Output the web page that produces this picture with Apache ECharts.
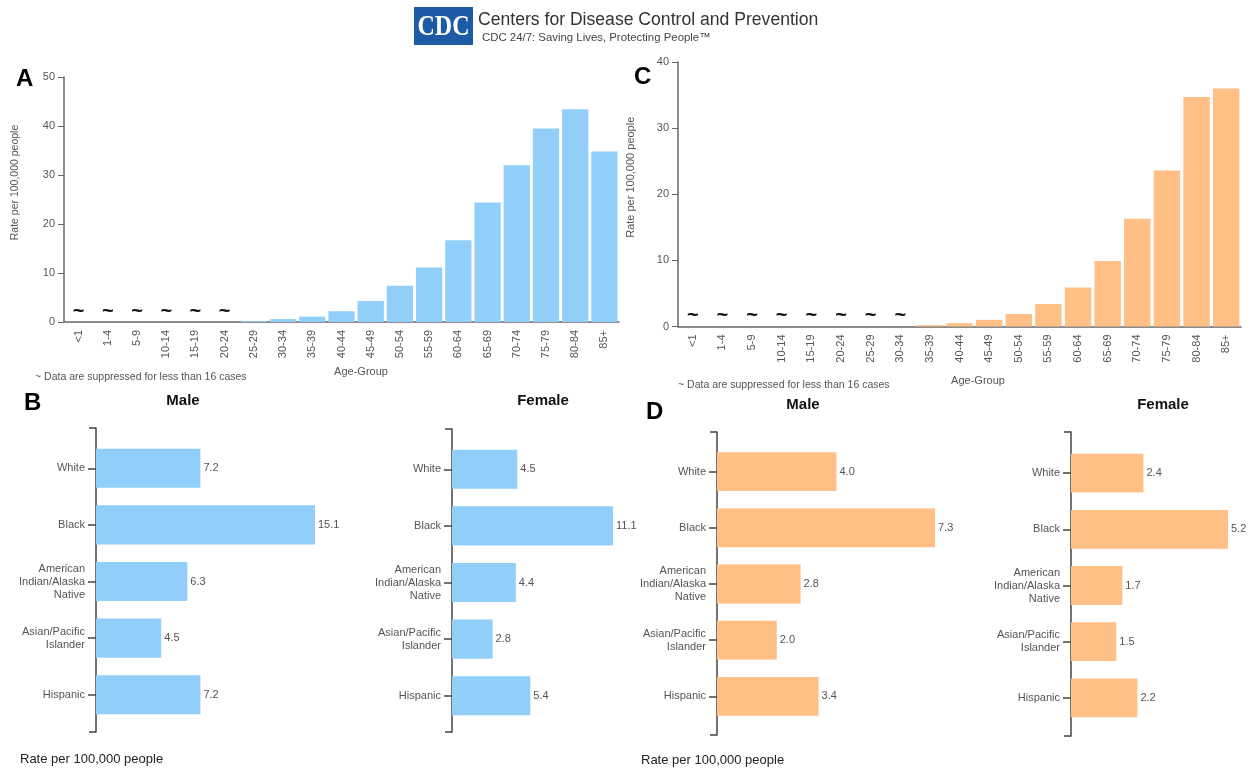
<!DOCTYPE html>
<html>
<head>
<meta charset="utf-8">
<title>Rates per 100,000 people</title>
<script src="https://cdn.jsdelivr.net/npm/echarts@6/dist/echarts.min.js"></script>
<style>
  html, body { margin: 0; padding: 0; background: #fff; }
  #chart { width: 1249px; height: 770px; }
</style>
</head>
<body>
<div id="chart"></div>
<script>
// age groups (panels A and C), null = suppressed (< 16 cases)
const ageGroups = ['<1', '1-4', '5-9', '10-14', '15-19', '20-24', '25-29', '30-34', '35-39', '40-44',
  '45-49', '50-54', '55-59', '60-64', '65-69', '70-74', '75-79', '80-84', '85+'];
const rateA = [null, null, null, null, null, null, 0.2, 0.6, 1.1, 2.2, 4.3, 7.4, 11.1, 16.7, 24.4, 32.0, 39.5, 43.4, 34.8];
const rateC = [null, null, null, null, null, null, null, null, 0.2, 0.5, 1.0, 1.9, 3.4, 5.9, 9.9, 16.3, 23.6, 34.7, 36.0];
const yTicksA = [0, 10, 20, 30, 40, 50];
const yTicksC = [0, 10, 20, 30, 40];

// race / ethnicity (panels B and D)
const raceGroups = ['White', 'Black', 'American\nIndian/Alaska\nNative', 'Asian/Pacific\nIslander', 'Hispanic'];
const maleB = [7.2, 15.1, 6.3, 4.5, 7.2];
const femaleB = [4.5, 11.1, 4.4, 2.8, 5.4];
const maleD = [4.0, 7.3, 2.8, 2.0, 3.4];
const femaleD = [2.4, 5.2, 1.7, 1.5, 2.2];

const BLUE = '#91cffa';
const ORANGE = '#ffbf85';
const AXIS = '#666';
const TXT = '#555';
const FONT = '"Liberation Sans", Arial, sans-serif';

var myChart = echarts.init(document.getElementById('chart'), null, { renderer: 'canvas' });

// suppressed groups: zero bar carrying a "~" label
function ageData(values) {
  return values.map(function (v) {
    if (v === null) {
      return {
        value: 0,
        label: { show: true, formatter: '~', position: 'top', distance: 1,
          fontSize: 20, fontWeight: 'bold', color: '#111', fontFamily: FONT }
      };
    }
    return v;
  });
}

function ageXAxis(gridIndex) {
  return {
    type: 'category', gridIndex: gridIndex, data: ageGroups,
    axisLine: { lineStyle: { color: AXIS, width: 1.5 } },
    axisTick: { alignWithLabel: true, length: 6, lineStyle: { color: AXIS } },
    axisLabel: { rotate: 90, fontSize: 11, color: TXT, fontFamily: FONT, margin: 8, interval: 0 }
  };
}

function ageYAxis(gridIndex, ticks, nameSize, gap) {
  return {
    type: 'value', gridIndex: gridIndex,
    min: ticks[0], max: ticks[ticks.length - 1], interval: ticks[1] - ticks[0],
    name: 'Rate per 100,000 people', nameLocation: 'middle', nameGap: gap,
    nameTextStyle: { fontSize: nameSize, color: TXT, fontFamily: FONT, padding: [0, 0, 0, 34] },
    axisLine: { show: true, lineStyle: { color: AXIS, width: 1.5 } },
    axisTick: { show: true, length: 6, lineStyle: { color: AXIS } },
    axisLabel: { fontSize: 11, color: TXT, fontFamily: FONT, margin: 9 },
    splitLine: { show: false }
  };
}

function raceYAxis(gridIndex) {
  return {
    type: 'category', gridIndex: gridIndex, data: raceGroups, inverse: true,
    axisLine: { show: false },
    axisTick: { show: true, alignWithLabel: true, length: 8, lineStyle: { color: '#444', width: 1.5 } },
    axisLabel: { fontSize: 11, color: TXT, fontFamily: FONT, margin: 11, lineHeight: 13, interval: 0 }
  };
}

// the bracket line: value axis with ticks only at both ends
function bracketYAxis(gridIndex) {
  return {
    type: 'value', gridIndex: gridIndex, min: 0, max: 1, interval: 1,
    axisLine: { show: true, lineStyle: { color: '#444', width: 1.5 } },
    axisTick: { show: true, length: 7, lineStyle: { color: '#444', width: 1.5 } },
    axisLabel: { show: false },
    splitLine: { show: false }
  };
}

function hiddenValueX(gridIndex) {
  return { type: 'value', gridIndex: gridIndex, show: false, min: 0, max: 'dataMax', splitLine: { show: false } };
}

function raceSeries(idx, values, color) {
  return {
    type: 'bar', xAxisIndex: idx, yAxisIndex: idx, data: values,
    barCategoryGap: '31%',
    itemStyle: { color: color },
    label: {
      show: true, position: 'right', distance: 3, fontSize: 11, color: TXT, fontFamily: FONT,
      formatter: function (p) { return p.value.toFixed(1); }
    },
    silent: true
  };
}

function txt(x, y, text, size, weight, color, align) {
  return {
    type: 'text', x: x, y: y, silent: true,
    style: { text: text, fontSize: size, fontWeight: weight || 'normal', fill: color || TXT,
      fontFamily: FONT, align: align || 'left', verticalAlign: 'middle' }
  };
}

var option = {
  animation: false,
  backgroundColor: '#fff',
  grid: [
    { left: 64, top: 77, width: 555, height: 245, outerBoundsMode: 'none' },       // A
    { left: 678, top: 62, width: 563, height: 264.5, outerBoundsMode: 'none' },    // C
    { left: 96, top: 440, width: 219, height: 283, outerBoundsMode: 'none' },      // B male
    { left: 452, top: 441, width: 161, height: 283, outerBoundsMode: 'none' },     // B female
    { left: 717, top: 443.5, width: 218, height: 281, outerBoundsMode: 'none' },   // D male
    { left: 1071, top: 445, width: 157, height: 281, outerBoundsMode: 'none' },    // D female
    { left: 96, top: 428, width: 10, height: 304, outerBoundsMode: 'none' },       // brackets
    { left: 452, top: 429, width: 10, height: 303, outerBoundsMode: 'none' },
    { left: 717, top: 432, width: 10, height: 303, outerBoundsMode: 'none' },
    { left: 1071, top: 432, width: 10, height: 304, outerBoundsMode: 'none' }
  ],
  xAxis: [
    ageXAxis(0), ageXAxis(1),
    hiddenValueX(2), hiddenValueX(3), hiddenValueX(4), hiddenValueX(5),
    { type: 'value', gridIndex: 6, show: false }, { type: 'value', gridIndex: 7, show: false },
    { type: 'value', gridIndex: 8, show: false }, { type: 'value', gridIndex: 9, show: false }
  ],
  yAxis: [
    ageYAxis(0, yTicksA, 10.5, 43), ageYAxis(1, yTicksC, 11, 42),
    raceYAxis(2), raceYAxis(3), raceYAxis(4), raceYAxis(5),
    bracketYAxis(6), bracketYAxis(7), bracketYAxis(8), bracketYAxis(9)
  ],
  series: [
    { type: 'bar', xAxisIndex: 0, yAxisIndex: 0, data: ageData(rateA), barCategoryGap: '10%',
      itemStyle: { color: BLUE }, silent: true },
    { type: 'bar', xAxisIndex: 1, yAxisIndex: 1, data: ageData(rateC), barCategoryGap: '11%',
      itemStyle: { color: ORANGE }, silent: true },
    raceSeries(2, maleB, BLUE),
    raceSeries(3, femaleB, BLUE),
    raceSeries(4, maleD, ORANGE),
    raceSeries(5, femaleD, ORANGE)
  ],
  graphic: [
    // header logo
    { type: 'rect', shape: { x: 414, y: 7, width: 59, height: 38 }, style: { fill: '#1d5ba6' }, silent: true },
    { type: 'text', x: 443.5, y: 27, scaleX: 0.8, silent: true,
      style: { text: 'CDC', fontSize: 30, fontWeight: 'bold', fill: '#fff', fontFamily: '"Liberation Serif", serif',
        align: 'center', verticalAlign: 'middle' } },
    txt(478, 20, 'Centers for Disease Control and Prevention', 17.6, 'normal', '#333'),
    txt(482, 38, 'CDC 24/7: Saving Lives, Protecting People\u2122', 11.4, 'normal', '#444'),
    // panel letters
    txt(16, 79, 'A', 24, 'bold', '#000'),
    txt(634, 77, 'C', 24, 'bold', '#000'),
    txt(24, 403, 'B', 24, 'bold', '#000'),
    txt(646, 412, 'D', 24, 'bold', '#000'),
    // axis titles and notes
    txt(361, 372, 'Age-Group', 11, 'normal', TXT, 'center'),
    txt(978, 381, 'Age-Group', 11, 'normal', TXT, 'center'),
    txt(35, 377, '~ Data are suppressed for less than 16 cases', 10.5, 'normal', TXT),
    txt(678, 385, '~ Data are suppressed for less than 16 cases', 10.5, 'normal', TXT),
    txt(183, 401, 'Male', 15, 'bold', '#111', 'center'),
    txt(543, 401, 'Female', 15, 'bold', '#111', 'center'),
    txt(803, 405, 'Male', 15, 'bold', '#111', 'center'),
    txt(1163, 405, 'Female', 15, 'bold', '#111', 'center'),
    txt(20, 759, 'Rate per 100,000 people', 13, 'normal', '#222'),
    txt(641, 760, 'Rate per 100,000 people', 13, 'normal', '#222')
  ]
};

myChart.setOption(option);

window.addEventListener('resize', function () {
  myChart.resize();
});
</script>
</body>
</html>
